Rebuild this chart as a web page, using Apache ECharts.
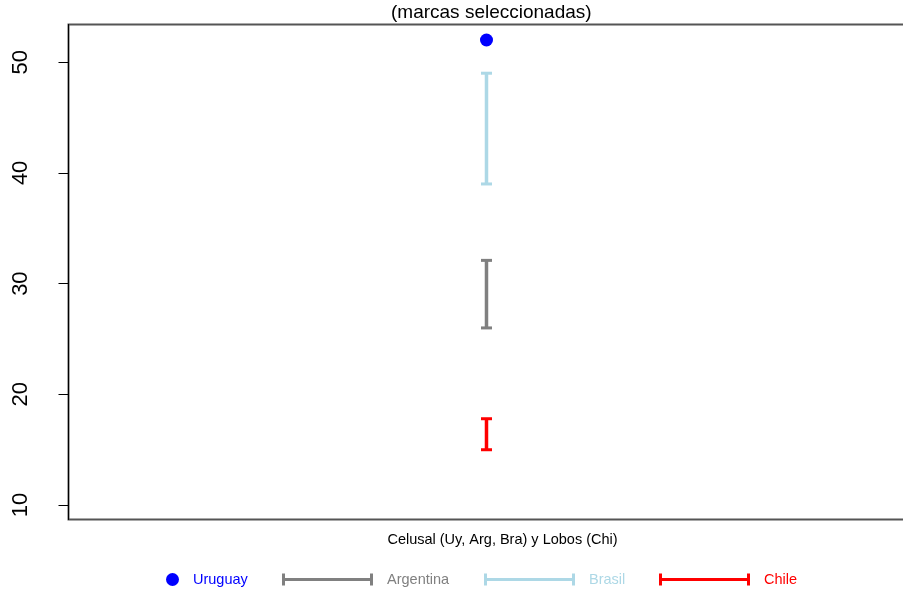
<!DOCTYPE html>
<html>
<head>
<meta charset="utf-8">
<script src="https://cdn.jsdelivr.net/npm/echarts@6/dist/echarts.min.js"></script>
<style>
  html, body { margin: 0; padding: 0; background: #fff; }
  #chart { width: 903px; height: 589px; }
</style>
</head>
<body>
<div id="chart"></div>
<script>
// Country groups and their colours
const countries = ['Uruguay', 'Argentina', 'Brasil', 'Chile'];
const colors = ['#0000FF', '#808080', '#ADD8E6', '#FF0000'];

// Uruguay: single value
const uruguayValue = [52];
// Ranges [low, high] for the other countries
const argentinaRange = [26, 32.1];
const brasilRange = [39, 49];
const chileRange = [15, 17.8];

const yTicks = [10, 20, 30, 40, 50];
const xPos = 1; // single category position on the horizontal axis

const FONT = "'Liberation Sans', Arial, sans-serif";

// Error bar shape for legend icons: cap | line | cap
const barIcon = 'path://M0,0H3V4.5H88V0H91V12H88V7.5H3V12H0Z';

function errorBar(color) {
  return function (params, api) {
    const lo = api.coord([api.value(0), api.value(1)]);
    const hi = api.coord([api.value(0), api.value(2)]);
    const half = 5.5;
    const st = { stroke: color, lineWidth: 3.5 };
    const cap = { stroke: color, lineWidth: 3 };
    return {
      type: 'group',
      children: [
        { type: 'line', shape: { x1: lo[0], y1: lo[1], x2: hi[0], y2: hi[1] }, style: st },
        { type: 'line', shape: { x1: lo[0] - half, y1: lo[1], x2: lo[0] + half, y2: lo[1] }, style: cap },
        { type: 'line', shape: { x1: hi[0] - half, y1: hi[1], x2: hi[0] + half, y2: hi[1] }, style: cap }
      ]
    };
  };
}

function rangeSeries(name, range, color) {
  return {
    name: name,
    type: 'custom',
    renderItem: errorBar(color),
    itemStyle: { color: color },
    encode: { x: 0, y: [1, 2] },
    data: [[xPos, range[0], range[1]]],
    z: 3
  };
}

function legendFor(idx, left, isDot) {
  return {
    left: left,
    top: 567,
    itemWidth: isDot ? 13 : 91,
    itemHeight: isDot ? 13 : 12,
    selectedMode: false,
    textStyle: { fontFamily: FONT, fontSize: 14.5, color: colors[idx], padding: [0, 0, 0, 9] },
    data: [{
      name: countries[idx],
      icon: isDot ? 'circle' : barIcon,
      itemStyle: { color: colors[idx], opacity: 1 }
    }]
  };
}

const chart = echarts.init(document.getElementById('chart'), null, { renderer: 'canvas' });

chart.setOption({
  animation: false,
  backgroundColor: '#fff',
  title: {
    text: '(marcas seleccionadas)',
    left: 386,
    top: -2,
    textStyle: { fontFamily: FONT, fontSize: 19, fontWeight: 'normal', color: '#000' }
  },
  grid: {
    left: 68.5,
    top: 24.5,
    width: 842,
    height: 495,
    outerBoundsMode: 'none',
    containLabel: false,
    show: true,
    borderColor: '#555',
    borderWidth: 2,
    backgroundColor: 'transparent'
  },
  legend: [
    legendFor(0, 161, true),
    legendFor(1, 277, false),
    legendFor(2, 479, false),
    legendFor(3, 654, false)
  ],
  xAxis: {
    type: 'value',
    min: 0,
    max: 2.0144,
    name: 'Celusal (Uy, Arg, Bra) y Lobos (Chi)',
    nameLocation: 'middle',
    nameGap: 13,
    nameTextStyle: { fontFamily: FONT, fontSize: 14.5, color: '#000', padding: [0, 0, 0, 26] },
    axisLine: { show: false },
    axisTick: { show: false },
    axisLabel: { show: false },
    splitLine: { show: false }
  },
  yAxis: {
    type: 'value',
    min: 8.7,
    max: 53.4,
    axisLine: { show: true, lineStyle: { color: '#000', width: 1 } },
    axisTick: { show: true, length: 10, customValues: yTicks, lineStyle: { color: '#000', width: 1 } },
    axisLabel: {
      show: true,
      customValues: yTicks,
      rotate: 90,
      margin: 37,
      fontFamily: FONT,
      fontSize: 22,
      color: '#000'
    },
    splitLine: { show: false }
  },
  series: [
    {
      name: countries[0],
      type: 'scatter',
      symbol: 'circle',
      symbolSize: 13,
      itemStyle: { color: colors[0], opacity: 1 },
      data: [[xPos, uruguayValue[0]]],
      z: 4
    },
    rangeSeries(countries[1], argentinaRange, colors[1]),
    rangeSeries(countries[2], brasilRange, colors[2]),
    rangeSeries(countries[3], chileRange, colors[3])
  ]
});
</script>
</body>
</html>
